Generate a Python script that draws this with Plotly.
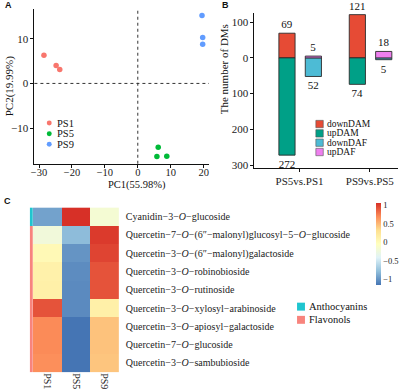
import plotly.graph_objects as go

W, H = 400, 392
def fx(p): return p / W
def fy(p): return 1 - p / H

SERIF = "Liberation Serif"
SANS = "Liberation Sans"

# ---------------- Panel A data (PCA) ----------------
groups = ["PS1", "PS5", "PS9"]
group_colors = ["#F8766D", "#00BA38", "#619CFF"]
pc1 = {"PS1": [-28.5, -24.8, -23.7], "PS5": [6.2, 5.8, 8.8], "PS9": [19.5, 19.7, 19.7]}
pc2 = {"PS1": [6.3, 4.0, 3.1], "PS5": [-14.3, -16.4, -16.3], "PS9": [15.2, 10.3, 8.8]}

# ---------------- Panel B data ----------------
comparisons = ["PS5vs.PS1", "PS9vs.PS5"]
down_dam = [69, 121]
up_dam = [272, 74]
down_daf = [52, 5]
up_daf = [5, 18]
bar_names = ["downDAM", "upDAM", "downDAF", "upDAF"]
bar_colors = ["#E64B35", "#00A087", "#4DBBD5", "#EE7FEE"]

# ---------------- Panel C data ----------------
compounds = [
    "Cyanidin−3−<i>O</i>−glucoside",
    "Quercetin−7−<i>O</i>−(6″−malonyl)glucosyl−5−<i>O</i>−glucoside",
    "Quercetin−3−<i>O</i>−(6″−malonyl)galactoside",
    "Quercetin−3−<i>O</i>−robinobioside",
    "Quercetin−3−<i>O</i>−rutinoside",
    "Quercetin−3−<i>O</i>−xylosyl−arabinoside",
    "Quercetin−3−<i>O</i>−apiosyl−galactoside",
    "Quercetin−7−<i>O</i>−glucoside",
    "Quercetin−3−<i>O</i>−sambubioside",
]
samples = ["PS1", "PS5", "PS9"]
zvals = [
    [-0.93, 1.06, -0.18],
    [-0.22, -0.80, 1.02],
    [0.02, -1.00, 0.98],
    [0.12, -1.04, 0.92],
    [0.13, -1.05, 0.92],
    [0.92, -1.05, 0.13],
    [0.70, -1.155, 0.455],
    [0.70, -1.155, 0.455],
    [0.68, -1.155, 0.44],
]
classes = ["Anthocyanins"] + ["Flavonols"] * 8
class_names = ["Anthocyanins", "Flavonols"]
class_colors = ["#1FC5CF", "#F8847D"]
heat_colors = ["#4575B4", "#91BFDB", "#E0F3F8", "#FFFFBF", "#FEE090", "#FC8D59", "#D73027"]

fig = go.Figure()

# Panel A scatter
for g, c in zip(groups, group_colors):
    fig.add_trace(go.Scatter(x=pc1[g], y=pc2[g], mode="markers",
                             marker=dict(color=c, size=5.5), showlegend=False,
                             xaxis="x", yaxis="y"))

# Panel B bars
bar_series = [
    (down_dam, 1, -0.293),
    (up_dam, -1, -0.293),
    (down_daf, -1, 0.082),
    (up_daf, 1, 0.082),
]
for (vals, sign, off), name, col in zip(bar_series, bar_names, bar_colors):
    fig.add_trace(go.Bar(x=comparisons, y=[sign * v for v in vals], base=0,
                         offset=off, width=0.23, name=name,
                         marker=dict(color=col, line=dict(color="#2b2b2b", width=0.9)),
                         text=[str(v) for v in vals], textposition="outside",
                         constraintext="none", cliponaxis=False,
                         textfont=dict(family=SERIF, size=11, color="#111"),
                         showlegend=False, xaxis="x2", yaxis="y2"))

# Panel C heatmap
stops = [[i / 6, c] for i, c in enumerate(heat_colors)]
zflat = [v for r in zvals for v in r]
fig.add_trace(go.Heatmap(z=zvals, x=samples, y=compounds, colorscale=stops,
                         zmin=min(zflat), zmax=1.06,
                         colorbar=dict(x=fx(376), xanchor="left", y=fy(246), yanchor="middle",
                                       xpad=0, ypad=0,
                                       len=82, lenmode="pixels", thickness=5, outlinewidth=0,
                                       tickvals=[-1, -0.5, 0, 0.5, 1],
                                       ticktext=["−1", "−0.5", "0", "0.5", "1"],
                                       tickfont=dict(family=SERIF, size=8.5, color="#222"),
                                       ticks="", ticklabelposition="outside"),
                         xaxis="x3", yaxis="y3", hoverinfo="skip"))
cls_idx = [[class_names.index(c)] for c in classes]
fig.add_trace(go.Heatmap(z=cls_idx, x=["class"], y=compounds,
                         colorscale=[[0, class_colors[0]], [0.5, class_colors[0]],
                                     [0.5, class_colors[1]], [1, class_colors[1]]],
                         zmin=0, zmax=1, showscale=False, xaxis="x4", yaxis="y3"))

axfont = dict(family=SERIF, size=11, color="#222")
fig.update_layout(
    width=W, height=H, margin=dict(l=0, r=0, t=0, b=0),
    paper_bgcolor="white", plot_bgcolor="white", showlegend=False,
    barmode="overlay",
    xaxis=dict(domain=[fx(30.7), fx(207)], range=[-31.4, 21.6], showgrid=False, zeroline=False,
               showline=True, linecolor="#111", linewidth=1, ticks="outside", ticklen=3,
               tickcolor="#111", tickvals=[-30, -20, -10, 0, 10, 20],
               tickfont=dict(family=SERIF, size=10.5, color="#222"),
               ticklabelstandoff=-4, anchor="y"),
    yaxis=dict(domain=[fy(165), fy(9)], range=[-18, 16.7], showgrid=False, zeroline=False,
               showline=True, linecolor="#111", linewidth=1, ticks="outside", ticklen=3,
               tickcolor="#111", tickvals=[-10, 0, 10], tickfont=axfont, anchor="x"),
    xaxis2=dict(domain=[fx(253), fx(398)], range=[-0.64, 1.40], showgrid=False, zeroline=False,
                showline=True, linecolor="#111", linewidth=1, ticks="outside", ticklen=3,
                tickcolor="#111", tickfont=axfont, anchor="y2", type="category"),
    yaxis2=dict(domain=[fy(169.3), fy(13.3)], range=[-308, 125], showgrid=False, zeroline=False,
                showline=True, linecolor="#111", linewidth=1, ticks="outside", ticklen=3,
                tickcolor="#111", tickvals=[100, 0, -100, -200, -300],
                ticktext=["100", "0", "100", "200", "300"], tickfont=axfont, anchor="x2"),
    xaxis3=dict(domain=[fx(29.3), fx(116)], showgrid=False, zeroline=False, showline=False,
                ticks="", tickangle=90, tickfont=dict(family=SERIF, size=10, color="#222"),
                anchor="y3"),
    yaxis3=dict(domain=[fy(375), fy(209)], autorange="reversed", showgrid=False, zeroline=False,
                showline=False, ticks="", side="right", ticklabelstandoff=6,
                tickfont=dict(family=SERIF, size=10, color="#222"), anchor="x3"),
    xaxis4=dict(domain=[fx(26), fx(29.3)], showticklabels=False, showgrid=False, zeroline=False,
                ticks="", anchor="y3"),
)

# dashed reference lines in panel A
fig.add_shape(type="line", xref="x", yref="y domain", x0=0, x1=0, y0=0, y1=1,
              line=dict(color="#333", width=1, dash="3px,3px"))
fig.add_shape(type="line", xref="x domain", yref="y", x0=0, x1=1, y0=0, y1=0,
              line=dict(color="#333", width=1, dash="3px,3px"))

ann = []
def txt(x, y, s, size=11, family=SERIF, angle=0, xanchor="center", bold=False):
    ann.append(dict(x=fx(x), y=fy(y), xref="paper", yref="paper", text=f"<b>{s}</b>" if bold else s,
                    showarrow=False, textangle=angle, xanchor=xanchor, yanchor="middle",
                    font=dict(family=family, size=size, color="#111")))

txt(5, 5, "A", size=9, family=SANS, bold=True)
txt(224, 5, "B", size=9, family=SANS, bold=True)
txt(4, 203, "C", size=9, family=SANS, bold=True)
txt(134.5, 186, "PC1(55.98%)", size=10.5)
txt(5, 86, "PC2(19.99%)", size=11, angle=-90)
txt(223, 70, "The number of DMs", size=11, angle=-90)

# legend A
for i, (g, c) in enumerate(zip(groups, group_colors)):
    yy = 124 + i * 10.7
    fig.add_shape(type="circle", xref="paper", yref="paper",
                  x0=fx(43.2), x1=fx(48.2), y0=fy(yy + 2.5), y1=fy(yy - 2.5),
                  fillcolor=c, line=dict(width=0))
    txt(52, yy, g, size=10.5, xanchor="left")

# legend B
for i, (n, c) in enumerate(zip(bar_names, bar_colors)):
    yy = 125 + i * 9.4
    fig.add_shape(type="rect", xref="paper", yref="paper",
                  x0=fx(315), x1=fx(322.5), y0=fy(yy + 3.7), y1=fy(yy - 3.7),
                  fillcolor=c, line=dict(width=0.6, color="#555"))
    txt(324.5, yy, n, size=9.5, xanchor="left")

# legend C
for i, (n, c) in enumerate(zip(class_names, class_colors)):
    yy = 309 + i * 13.3
    fig.add_shape(type="rect", xref="paper", yref="paper",
                  x0=fx(296), x1=fx(304), y0=fy(yy + 4), y1=fy(yy - 4),
                  fillcolor=c, line=dict(width=0))
    txt(306.5, yy, n, size=10.5, xanchor="left")

fig.update_layout(annotations=ann)
fig.write_html("out.html", config={"displayModeBar": False},
               post_script="document.body.style.margin='0';document.body.style.overflow='hidden';")
